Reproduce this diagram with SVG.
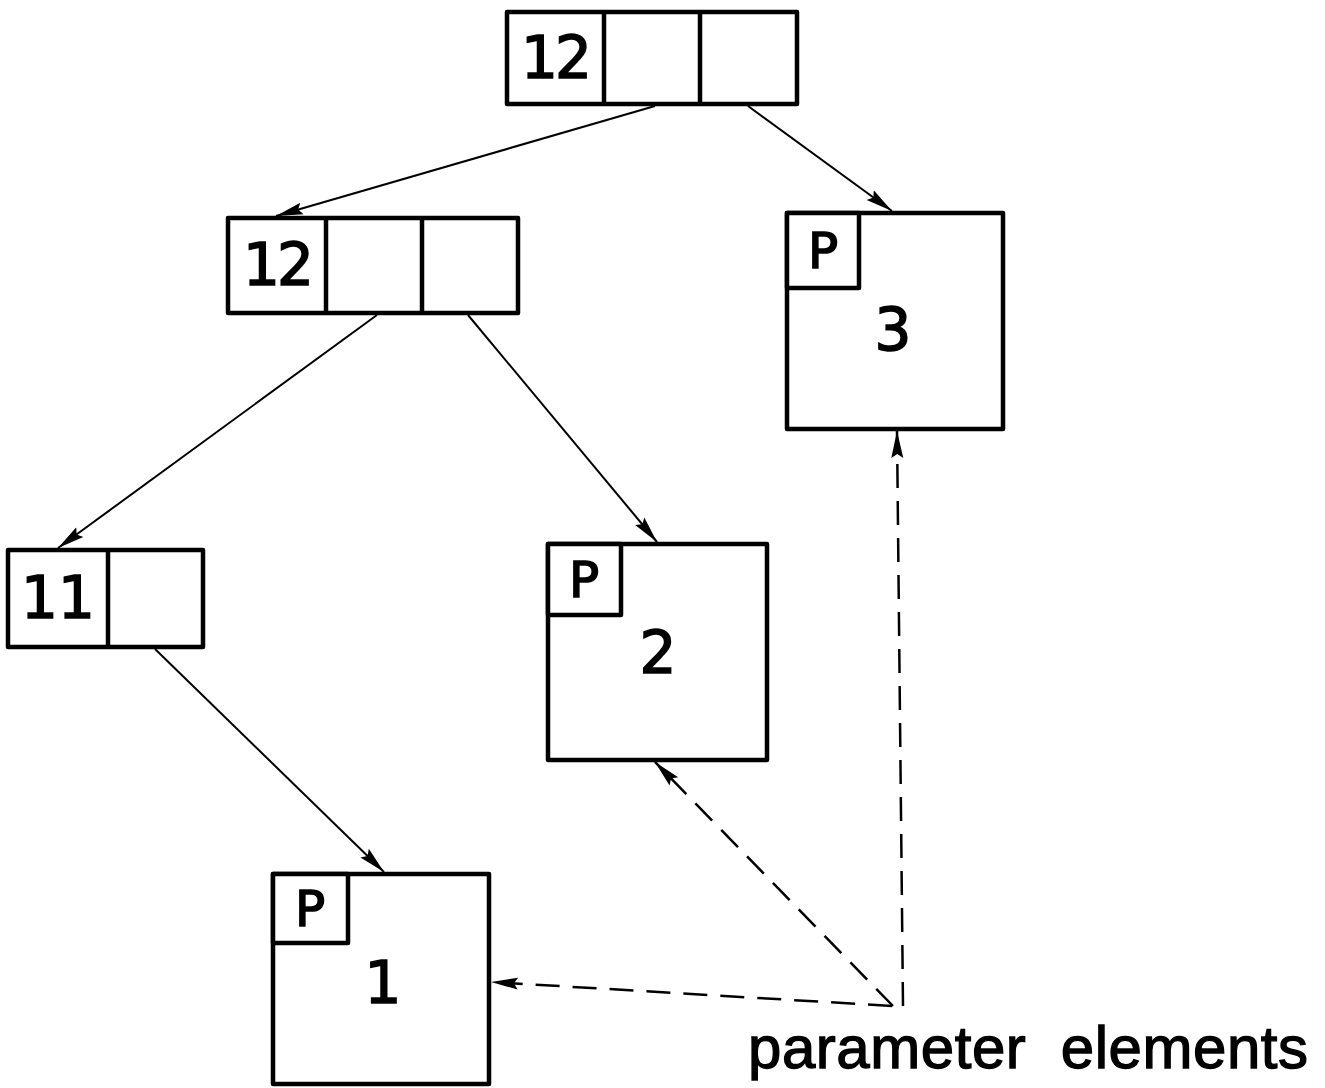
<svg xmlns="http://www.w3.org/2000/svg" width="1325" height="1088" viewBox="0 0 1325 1088">
<style>
.box{fill:#fff;stroke:#000;stroke-width:4.5;stroke-linejoin:round}
.div{stroke:#000;stroke-width:4.5}
.lbl{font-family:"DejaVu Sans","Liberation Sans",sans-serif;font-size:58px;fill:#000;stroke:#000;stroke-width:1.6;text-anchor:middle;dominant-baseline:central}
.p{font-family:"DejaVu Sans","Liberation Sans",sans-serif;font-size:50px;fill:#000;stroke:#000;stroke-width:1.6;text-anchor:middle;dominant-baseline:central}
.edge{stroke:#000;stroke-width:2;fill:none;marker-end:url(#ah)}
.dash{stroke:#000;stroke-width:2.5;fill:none;stroke-dasharray:24 13;marker-end:url(#ah)}
.cap{font-family:"Liberation Sans","DejaVu Sans",sans-serif;font-size:60px;fill:#000;stroke:#000;stroke-width:1.3}
</style>
<defs>
<marker id="ah" markerUnits="userSpaceOnUse" markerWidth="30" markerHeight="16" refX="27" refY="7" orient="auto">
<path d="M0,1 L27,7 L0,13 L4,7 Z" fill="#000"/>
</marker>
</defs>
<rect width="1325" height="1088" fill="#fff"/>
<g id="connectors">
<line class="edge" x1="655" y1="106" x2="276" y2="216"/>
<line class="edge" x1="748" y1="106" x2="892" y2="211"/>
<line class="edge" x1="377" y1="315" x2="58" y2="548"/>
<line class="edge" x1="468" y1="315" x2="657" y2="542"/>
<line class="edge" x1="155" y1="649" x2="384" y2="872"/>
<line class="dash" x1="892" y1="1006" x2="491" y2="982"/>
<line class="dash" x1="893" y1="1006" x2="655" y2="762"/>
<line class="dash" x1="903" y1="1006" x2="897" y2="431"/>
</g>
<g id="n_top">
<rect class="box" x="507" y="12" width="290" height="92"/>
<line class="div" x1="604" y1="12" x2="604" y2="104"/>
<line class="div" x1="700" y1="12" x2="700" y2="104"/>
<text class="lbl" x="555" y="58" letter-spacing="-3">12</text>
</g>
<g id="n_mid">
<rect class="box" x="228" y="218" width="290" height="95"/>
<line class="div" x1="326" y1="218" x2="326" y2="313"/>
<line class="div" x1="422" y1="218" x2="422" y2="313"/>
<text class="lbl" x="277" y="265" letter-spacing="-3">12</text>
</g>
<g id="n_11">
<rect class="box" x="8" y="550" width="195" height="97"/>
<line class="div" x1="108" y1="550" x2="108" y2="647"/>
<text class="lbl" x="58" y="598">11</text>
</g>
<g id="p3">
<rect class="box" x="787" y="213" width="216" height="216"/>
<rect class="box" x="787" y="213" width="72" height="75"/>
<text class="p" x="823" y="251">P</text>
<text class="lbl" x="893" y="330">3</text>
</g>
<g id="p2">
<rect class="box" x="548" y="544" width="219" height="216"/>
<rect class="box" x="548" y="544" width="73" height="71"/>
<text class="p" x="584" y="580">P</text>
<text class="lbl" x="658" y="653">2</text>
</g>
<g id="p1">
<rect class="box" x="273" y="874" width="216" height="210"/>
<rect class="box" x="273" y="874" width="75" height="69"/>
<text class="p" x="310" y="909">P</text>
<text class="lbl" x="383" y="983">1</text>
</g>
<g id="caption">
<text class="cap" x="748" y="1068" xml:space="preserve" textLength="560" lengthAdjust="spacing">parameter  elements</text>
</g>
</svg>
